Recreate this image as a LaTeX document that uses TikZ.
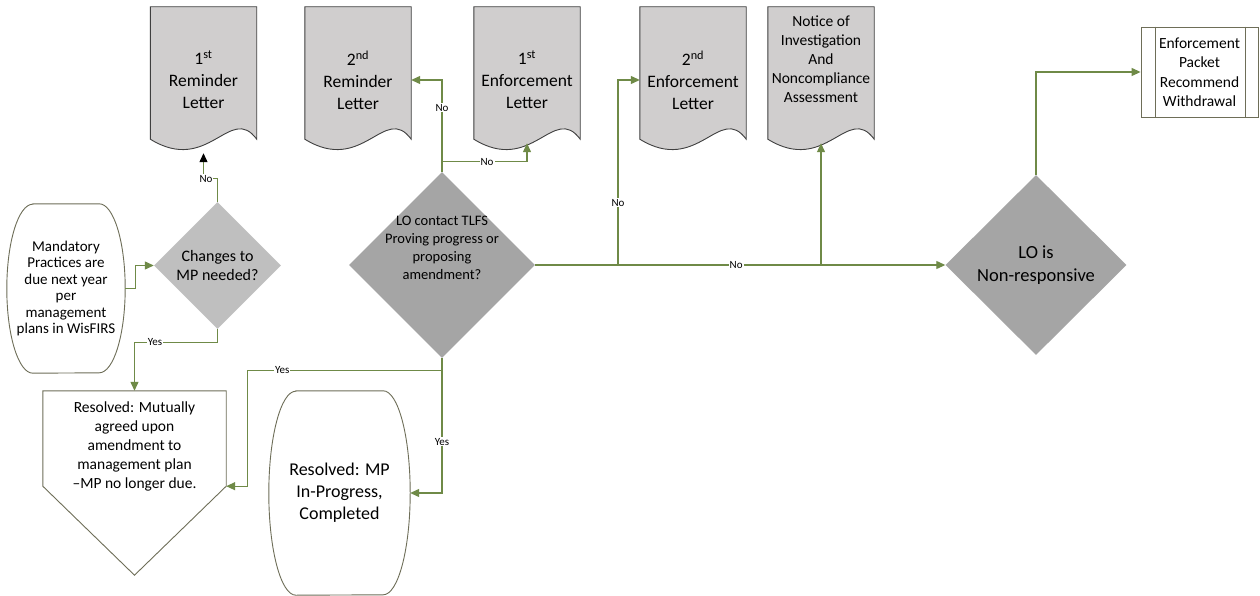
\documentclass[tikz,border=0pt]{standalone}
\usepackage{fontspec}
\setmainfont{Carlito}
\usetikzlibrary{shapes.geometric,arrows.meta,backgrounds}
\definecolor{docfill}{HTML}{D0CECE}
\definecolor{docedge}{HTML}{3F3F3F}
\definecolor{dlight}{HTML}{BFBFBF}
\definecolor{ddark}{HTML}{A5A5A5}
\definecolor{conngreen}{HTML}{6F8A47}
\definecolor{termedge}{HTML}{6E6E58}
\newcommand\shiftbox[2]{\raisebox{#1}[\height][\depth]{#2}}
\newcommand\docshape[1]{%
  \begin{pgfonlayer}{background}
  \draw[docline] (#1.north west) -- (#1.north east) -- ([yshift=14pt]#1.south east)
    .. controls +(-26.5pt,36pt) and +(58.3pt,-36pt) .. ([yshift=14pt]#1.south west) -- cycle;
  \end{pgfonlayer}}
\newcommand\termshape[3]{%
  \begin{pgfonlayer}{background}
  \draw[termline] ([xshift=#2]#1.north west) -- ([xshift=-#2]#1.north east)
    arc[x radius=#2, y radius=#3, start angle=90, end angle=-90]
    -- ([xshift=#2]#1.south west)
    arc[x radius=#2, y radius=#3, start angle=270, end angle=90] -- cycle;
  \end{pgfonlayer}}
\begin{document}
\begin{tikzpicture}[x=1pt,y=-1pt,
  doc/.style={rectangle, minimum width=106pt, minimum height=146pt, inner sep=0pt,
    align=center, font=\fontsize{17.5}{22}\selectfont},
  docline/.style={draw=docedge, fill=docfill, line width=0.9pt},
  termline/.style={draw=termedge, fill=white, line width=0.9pt},
  term/.style={rectangle, inner sep=0pt, align=center},
  decision/.style={diamond, inner sep=0pt, align=center, draw=none},
  pktbox/.style={rectangle, draw=termedge, fill=white, line width=0.9pt,
    minimum width=117pt, minimum height=90pt, inner sep=0pt, align=center,
    font=\fontsize{15.5}{19.5}\selectfont},
  pentbox/.style={rectangle, minimum width=183pt, minimum height=93pt, inner sep=0pt,
    align=center, font=\fontsize{15.5}{19}\selectfont},
  conn/.style={draw=conngreen, line width=1.2pt, -{Triangle[length=9pt,width=8pt]}},
  lbl/.style={fill=white, inner sep=1pt, font=\fontsize{11}{13}\selectfont, text=black}
]
\useasboundingbox (0,0) rectangle (1260,596);
\begin{pgfonlayer}{background}
\fill[white] (0,0) rectangle (1260,596);
\end{pgfonlayer}

% documents
\node[doc] (rem1) at (203.5,80) {1\textsuperscript{st}\\Reminder\\Letter};
\node[doc] (rem2) at (358,80) {2\textsuperscript{nd}\\Reminder\\Letter};
\node[doc] (enf1) at (527,80) {1\textsuperscript{st}\\Enforcement\\Letter};
\node[doc] (enf2) at (693,80) {2\textsuperscript{nd}\\Enforcement\\Letter};
\node[doc, font=\fontsize{15.5}{19}\selectfont] (notice) at (821,80)
  {\shiftbox{19pt}{\begin{tabular}{@{}c@{}}Notice of\\Investigation\\And\\Noncompliance\\Assessment\end{tabular}}};
\docshape{rem1}\docshape{rem2}\docshape{enf1}\docshape{enf2}\docshape{notice}

% predefined process
\node[pktbox] (pkt) at (1199.5,72) {Enforcement\\Packet\\Recommend\\Withdrawal};
\draw[draw=termedge, line width=0.9pt] ([xshift=15pt]pkt.north west) -- ([xshift=15pt]pkt.south west);
\draw[draw=termedge, line width=0.9pt] ([xshift=-13pt]pkt.north east) -- ([xshift=-13pt]pkt.south east);

% start terminal
\node[term, minimum width=118pt, minimum height=169pt, font=\fontsize{15}{16.5}\selectfont] (start) at (66,288.5)
  {Mandatory\\Practices are\\due next year\\per\\management\\plans in WisFIRS};
\termshape{start}{26pt}{84.5pt}

% decisions
\node[decision, fill=dlight, minimum width=127pt, minimum height=127pt,
  font=\fontsize{16}{19}\selectfont] (chg) at (217.5,265.5) {Changes to\\MP needed?};
\node[decision, fill=ddark, minimum width=182pt, minimum height=184pt,
  font=\fontsize{14.5}{18}\selectfont] (lo) at (442,265)
  {\shiftbox{16pt}{\begin{tabular}{@{}c@{}}LO contact TLFS\\Proving progress or\\proposing\\amendment?\end{tabular}}};
\node[decision, fill=ddark, minimum width=181pt, minimum height=180pt,
  font=\fontsize{18.5}{23}\selectfont] (nr) at (1036,265) {LO is\\Non-responsive};

% off-page pentagon
\node[pentbox] (pent) at (134.5,438.5)
  {\shiftbox{-8pt}{\begin{tabular}{@{}c@{}}Resolved: Mutually\\agreed upon\\amendment to\\management plan\\\textendash MP no longer due.\end{tabular}}};
\begin{pgfonlayer}{background}
\draw[termline] (pent.north west) -- (pent.north east) -- (pent.south east)
  -- ([yshift=-89pt]pent.south) -- (pent.south west) -- cycle;
\end{pgfonlayer}

% end terminal
\node[term, minimum width=141pt, minimum height=204pt, font=\fontsize{18}{22}\selectfont] (term2) at (339.5,493)
  {Resolved: MP\\In-Progress,\\Completed};
\termshape{term2}{27pt}{102pt}

\coordinate (b1) at (618,265);
\coordinate (b2) at (821,265);

% connectors
\draw[conn] (start.east) -- ++(10,0) |- (chg.west);
\draw[conn] (chg.south) -- ++(0,13) -| node[lbl, pos=0.376] {Yes} (pent.north);
\draw[conn, -{Triangle[length=9pt,width=8pt,color=black]}] (chg.north) -- ++(0,-23) -| node[lbl, pos=0.41] {No} (rem1.south);
\draw[conn] (lo.north) -- ++(0,-10) -| node[lbl, pos=0.265] {No} ([yshift=10pt]enf1.south);
\draw[conn] (lo.north) |- node[lbl, pos=0.35] {No} (rem2.east);
\draw[conn] (lo.east) -- node[lbl, pos=0.49] {No} (nr.west);
\draw[conn] (b1) |- node[lbl, pos=0.168] {No} (enf2.west);
\draw[conn] (b2) -- ([yshift=10pt]notice.south);
\draw[conn] (nr.north) |- (pkt.west);
\draw[conn] (lo.south) -- ++(0,12) -| node[lbl, pos=0.41] {Yes} ([xshift=21pt]pent.south east) -- (pent.south east);
\draw[conn] (lo.south) |- node[lbl, pos=0.31] {Yes} (term2.east);
\end{tikzpicture}
\end{document}
